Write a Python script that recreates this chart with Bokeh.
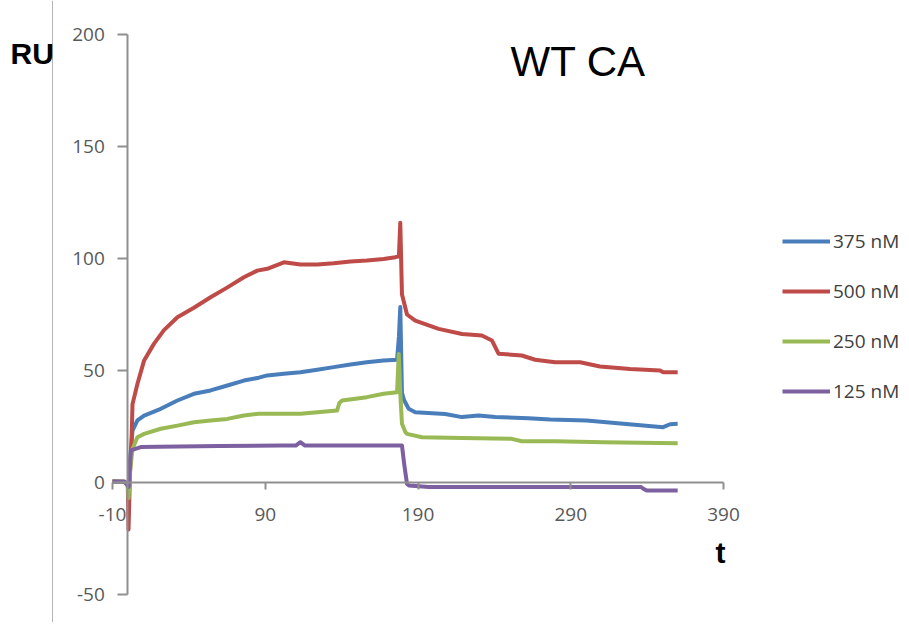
from bokeh.plotting import figure
from bokeh.models import (LinearAxis, FixedTicker, Legend, LegendItem, Label, Span, Range1d,
                          PrintfTickFormatter)
from bokeh.embed import file_html
from bokeh.resources import INLINE

# ---- data ----
x_ticks = [-10, 90, 190, 290, 390]
y_ticks = [-50, 0, 50, 100, 150, 200]

series_names = ["375 nM", "500 nM", "250 nM", "125 nM"]
series_colors = ["#4a7ebb", "#be4b48", "#98b954", "#7d60a0"]

t_375 = [-10, -2, 0, 0.5, 1.5, 3.1, 6.3, 10.7, 21.6, 32.5, 43.3, 54.2, 65.2, 76, 85.8, 91.3,
         102.2, 113, 124, 134.8, 145.8, 156.5, 167.5, 176.3, 177.5, 178.4, 179.5, 181, 183.9,
         188.2, 207.8, 218.8, 229.6, 240.5, 262.3, 276.5, 300.4, 324.4, 350.5, 355, 360]
v_375 = [0.5, 0.3, -1, -3, 10, 23.2, 27.7, 29.9, 32.9, 36.6, 39.6, 41.1, 43.3, 45.5, 46.8, 47.8,
         48.5, 49.2, 50.3, 51.5, 52.7, 53.7, 54.5, 54.8, 65, 78.3, 40, 36.6, 32.9,
         31.4, 30.6, 29.2, 29.9, 29.2, 28.7, 28.1, 27.7, 26.2, 24.7, 26, 26.2]

t_500 = [-10, -2, 0, 0.5, 1.5, 2.4, 3.1, 6.3, 10.7, 17.2, 23.7, 32.5, 43.3, 54.2, 65, 76, 84.8,
         91.3, 102.2, 113, 124, 134.8, 145.8, 156.5, 167.5, 175.2, 177.5, 178.4, 179.5, 182.8,
         188.2, 203.5, 218.8, 231.8, 238.4, 242.7, 258, 266.7, 279.7, 296.1, 309.2, 328.8,
         348.4, 350.5, 360]
v_500 = [0.5, 0.3, -1, -21, 5, 17, 35, 44, 54.5, 62, 68, 73.8, 78, 82.7, 87, 91.6, 94.6,
         95.4, 98.3, 97.3, 97.3, 97.9, 98.7, 99.1, 99.8, 100.6, 101, 116, 84, 75,
         72.3, 68.6, 66.3, 65.6, 63.4, 57.5, 56.7, 54.8, 53.7, 53.7, 51.8, 50.7,
         50, 49.2, 49.2]

t_250 = [-10, -2, 0, 0.5, 1.5, 3.1, 6.3, 10.7, 21.6, 32.5, 43.3, 54.2, 65.2, 76, 85.8, 91.3,
         113, 137, 138.5, 140.3, 156.5, 167.5, 176.3, 177.4, 178.4, 179.5, 181.7, 182.8,
         192.6, 218.8, 251.4, 258, 279.7, 311.4, 360]
v_250 = [0.5, 0.3, -1, -7, 5, 15, 20.2, 21.7, 24, 25.4, 26.9, 27.7, 28.4, 29.9, 30.7, 30.7,
         30.7, 32.1, 35.5, 36.6, 38.1, 39.6, 40.3, 57.4, 40, 26.2, 22.5, 21.7,
         20.2, 19.9, 19.5, 18.4, 18.4, 18, 17.5]

t_125 = [-10, -2, -0.5, 0.6, 1.5, 2, 8.5, 20, 60, 100, 110, 113, 116, 120, 150, 178.4, 179.5,
         181, 182.8, 183.9, 197, 276.5, 336, 337.5, 339.7, 360]
v_125 = [0.5, 0.3, -1, -2, 8, 14.3, 15.8, 16, 16.3, 16.5, 16.5, 18, 16.5, 16.5, 16.5, 16.5, 16.5,
         8, -0.6, -1.3, -2, -2, -2, -2.8, -3.6, -3.6]

series_t = [t_375, t_500, t_250, t_125]
series_v = [v_375, v_500, v_250, v_125]

# ---- figure: the frame fills the whole canvas, axes are placed at x=0 / y=0 ----
W, H = 909, 622
px_x = 1.5275   # pixels per time unit
px_y = 2.24     # pixels per RU
x_start = -10 - 112 / px_x
y_end = 200 + 34 / px_y

p = figure(width=W, height=H,
           x_range=Range1d(x_start, x_start + W / px_x),
           y_range=Range1d(y_end - H / px_y, y_end),
           output_backend="svg", toolbar_location=None, title=None,
           x_axis_type=None, y_axis_type=None,
           min_border_left=0, min_border_right=0, min_border_top=0, min_border_bottom=0)
p.outline_line_color = None
p.background_fill_color = "white"
p.border_fill_color = "white"

axis_color = "#8f8f8f"
tick_font = "Open Sans"
tick_color = "#595959"

xaxis = LinearAxis(fixed_location=0, bounds=(-10, 390),
                   ticker=FixedTicker(ticks=x_ticks, minor_ticks=[]),
                   formatter=PrintfTickFormatter(format="%d"),
                   axis_line_color=axis_color, axis_line_width=2,
                   major_tick_line_color=axis_color, major_tick_line_width=2,
                   major_tick_out=7, major_tick_in=0, minor_tick_out=0, minor_tick_in=0,
                   major_label_text_font=tick_font, major_label_text_font_size="19px",
                   major_label_text_color=tick_color, major_label_standoff=18)
p.add_layout(xaxis, "below")

yaxis = LinearAxis(fixed_location=0, bounds=(-50, 200),
                   ticker=FixedTicker(ticks=y_ticks, minor_ticks=[]),
                   formatter=PrintfTickFormatter(format="%d"),
                   axis_line_color=axis_color, axis_line_width=2,
                   major_tick_line_color=axis_color, major_tick_line_width=2,
                   major_tick_out=10, major_tick_in=0, minor_tick_out=0, minor_tick_in=0,
                   major_label_text_font=tick_font, major_label_text_font_size="19px",
                   major_label_text_color=tick_color, major_label_standoff=13)
p.add_layout(yaxis, "left")

p.add_layout(Span(location=x_start + 52 / px_x, dimension="height",
                  line_color="#b5b5b5", line_width=1))

renderers = []
for t, v, c in zip(series_t, series_v, series_colors):
    r = p.line(t, v, line_color=c, line_width=4, line_join="round")
    renderers.append(r)

legend = Legend(items=[LegendItem(label=n, renderers=[r]) for n, r in zip(series_names, renderers)],
                location=(782, H - 404), orientation="vertical",
                border_line_color=None, background_fill_alpha=0, padding=0, margin=0,
                spacing=24, glyph_height=20, glyph_width=48, label_height=20,
                label_standoff=3, label_text_font="Open Sans", label_text_font_size="19px",
                label_text_color="#404040")
p.add_layout(legend)

p.add_layout(Label(x=x_start + 10 / px_x, y=y_end - 53 / px_y, text="RU",
                   text_font="Liberation Sans", text_font_style="bold", text_font_size="30px",
                   text_color="black", text_baseline="alphabetic"))
p.add_layout(Label(x=x_start + 715 / px_x, y=y_end - 552 / px_y, text="t",
                   text_font="Liberation Sans", text_font_style="bold", text_font_size="30px",
                   text_color="black", text_baseline="alphabetic"))
p.add_layout(Label(x=x_start + 510 / px_x, y=y_end - 61 / px_y, text="WT CA",
                   text_font="Liberation Sans", text_font_size="42px",
                   text_color="black", text_baseline="alphabetic"))

open("out.html", "w").write(file_html(p, INLINE))
